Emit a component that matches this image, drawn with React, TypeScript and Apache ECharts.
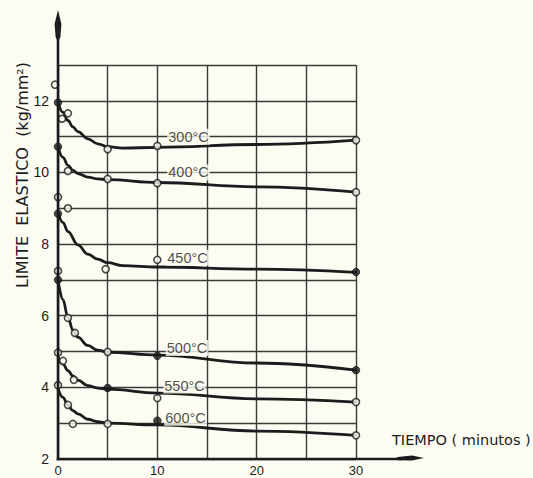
import React, { useEffect, useRef } from 'react';
import * as echarts from 'echarts';

const BG = '#fcfcf3';
const INK = '#1c1c1c';
const GRIDC = '#3a3a3a';

const xTickLabels = [0, 10, 20, 30];
const yTickLabels = [2, 4, 6, 8, 10, 12];
const temps = ['300°C', '400°C', '450°C', '500°C', '550°C', '600°C'];

// Fitted curves
const curve300 = [[0, 11.95], [0.5, 11.68], [1, 11.45], [1.5, 11.27], [2, 11.14], [3, 10.94], [4, 10.8], [5, 10.72], [6.5, 10.68], [10, 10.7], [20, 10.78], [30, 10.9]];
const curve400 = [[0, 10.72], [0.5, 10.42], [1, 10.2], [1.5, 10.06], [2, 9.97], [3, 9.87], [4, 9.82], [5, 9.8], [10, 9.72], [20, 9.6], [30, 9.45]];
const curve450 = [[0, 8.9], [0.5, 8.6], [1, 8.35], [2, 7.98], [3, 7.72], [4, 7.58], [5, 7.48], [6.5, 7.4], [10, 7.36], [20, 7.3], [30, 7.21]];
const curve500 = [[0, 7.0], [0.5, 6.45], [1, 5.95], [1.5, 5.6], [2, 5.4], [3, 5.17], [4, 5.04], [5, 4.98], [10, 4.9], [20, 4.68], [30, 4.48]];
const curve550 = [[0, 4.85], [0.5, 4.65], [1, 4.47], [1.5, 4.32], [2, 4.2], [3, 4.05], [4, 3.98], [5, 3.95], [10, 3.84], [20, 3.68], [30, 3.59]];
const curve600 = [[0, 3.96], [0.5, 3.72], [1, 3.5], [1.5, 3.35], [2, 3.26], [3, 3.11], [4, 3.04], [5, 3.0], [10, 2.95], [20, 2.78], [30, 2.66]];

// Measured points: open circles
const open300 = [[-0.3, 12.45], [0.4, 11.5], [1, 11.65], [5, 10.65], [10, 10.74], [30, 10.9]];
const open400 = [[1, 10.04], [5, 9.82], [10, 9.7], [30, 9.45]];
const open450 = [[0, 9.31], [1, 9.0], [4.8, 7.3], [10, 7.56]];
const open500 = [[0, 7.25], [1, 5.94], [1.7, 5.52], [5, 4.99]];
const open550 = [[0, 4.97], [0.5, 4.74], [1.6, 4.21], [10, 3.7], [30, 3.59]];
const open600 = [[0, 4.06], [1, 3.51], [1.5, 2.98], [5, 2.98], [30, 2.66]];

// Measured points: filled circles
const filled300 = [[0, 11.95]];
const filled400 = [[0, 10.72]];
const filled450 = [[0, 8.85], [30, 7.22]];
const filled500 = [[0, 7.0], [10, 4.88], [30, 4.48]];
const filled550 = [[5, 3.98]];
const filled600 = [[10, 3.07]];

// Curve label anchor positions (data coords)
const labelX = [11, 11, 10.9, 10.85, 10.6, 10.7];
const labelY = [11, 10, 7.62, 5.1, 4.05, 3.15];

const curves = [curve300, curve400, curve450, curve500, curve550, curve600];
const opens = [open300, open400, open450, open500, open550, open600];
const filleds = [filled300, filled400, filled450, filled500, filled550, filled600];

export default function App() {
  const ref = useRef<HTMLDivElement>(null);
  useEffect(() => {
    document.body.style.margin = '0';
    document.body.style.background = BG;
    const chart = echarts.init(ref.current!, null, { renderer: 'svg' });

    const series: any[] = [];
    curves.forEach((c, i) => {
      series.push({
        type: 'line',
        name: temps[i],
        data: c,
        smooth: 0.4,
        smoothMonotone: 'x',
        showSymbol: false,
        lineStyle: { color: INK, width: 2.8 },
        z: 3,
      });
    });
    opens.forEach((o) => {
      series.push({
        type: 'scatter',
        data: o,
        symbol: 'circle',
        symbolSize: 7,
        clip: false,
        itemStyle: { color: BG, borderColor: INK, borderWidth: 1.6 },
        z: 4,
      });
    });
    filleds.forEach((f) => {
      series.push({
        type: 'scatter',
        data: f,
        symbol: 'circle',
        symbolSize: 7.5,
        clip: false,
        itemStyle: { color: INK, borderColor: INK, borderWidth: 1 },
        z: 4,
      });
    });
    series.push({
      type: 'scatter',
      data: temps.map((t, i) => [labelX[i], labelY[i], t]),
      symbolSize: 0,
      silent: true,
      z: 5,
      label: {
        show: true,
        position: 'right',
        distance: 0,
        formatter: (p: any) => p.data[2],
        color: INK,
        fontFamily: 'Liberation Sans',
        fontSize: 14.5,
        backgroundColor: BG,
        padding: [1, 1, 0, 1],
      },
    });

    const option: any = {
      animation: false,
      backgroundColor: BG,
      grid: { left: 58, right: 177, top: 65, bottom: 19, containLabel: false },
      xAxis: {
        type: 'value',
        min: 0,
        max: 30,
        interval: 5,
        axisLine: { show: false },
        axisTick: { show: false },
        axisLabel: {
          color: INK,
          fontFamily: 'Liberation Sans',
          fontSize: 13,
          margin: 5,
          formatter: (v: number) => (xTickLabels.includes(v) ? String(v) : ''),
        },
        splitLine: { show: true, lineStyle: { color: GRIDC, width: 1.4 } },
      },
      yAxis: {
        type: 'value',
        min: 2,
        max: 13,
        interval: 1,
        axisLine: { show: false },
        axisTick: { show: false },
        axisLabel: {
          color: INK,
          fontFamily: 'Liberation Sans',
          fontSize: 14,
          margin: 9,
          padding: [0, 0, 7, 0],
          formatter: (v: number) => (yTickLabels.includes(v) ? String(v) : ''),
        },
        splitLine: { show: true, lineStyle: { color: GRIDC, width: 1.4 } },
      },
      series,
    };
    chart.setOption(option);

    const o = chart.convertToPixel({ gridIndex: 0 }, [0, 2]) as number[];
    const ox = o[0];
    const oy = o[1];
    chart.setOption({
      graphic: [
        { type: 'line', shape: { x1: ox, y1: oy + 1.3, x2: ox, y2: 36 }, style: { stroke: INK, lineWidth: 2.6 }, z: 10 },
        {
          type: 'polygon',
          shape: { points: [[ox, 10], [ox + 3.4, 24], [ox + 2.4, 37], [ox, 42], [ox - 2.4, 37], [ox - 3.4, 24]] },
          style: { fill: INK },
          z: 10,
        },
        { type: 'line', shape: { x1: ox - 1.3, y1: oy, x2: 402, y2: oy }, style: { stroke: INK, lineWidth: 2.6 }, z: 10 },
        {
          type: 'polygon',
          shape: { points: [[424, oy - 1], [412, oy - 3.6], [398, oy - 2], [394, oy], [398, oy + 1.2], [412, oy + 1.6]] },
          style: { fill: INK },
          z: 10,
        },
        {
          type: 'text',
          x: 22,
          y: 175,
          rotation: Math.PI / 2,
          style: {
            text: 'LIMITE  ELASTICO  (kg/mm²)',
            fill: INK,
            font: '16px "DejaVu Sans"',
            textAlign: 'center',
            textVerticalAlign: 'middle',
          },
          z: 10,
        },
        {
          type: 'text',
          x: 392,
          y: 440,
          style: {
            text: 'TIEMPO ( minutos )',
            fill: INK,
            font: '14.5px "DejaVu Sans"',
            textAlign: 'left',
            textVerticalAlign: 'middle',
          },
          z: 10,
        },
      ],
    });

    return () => chart.dispose();
  }, []);
  return <div ref={ref} style={{ width: 533, height: 478 }} />;
}
